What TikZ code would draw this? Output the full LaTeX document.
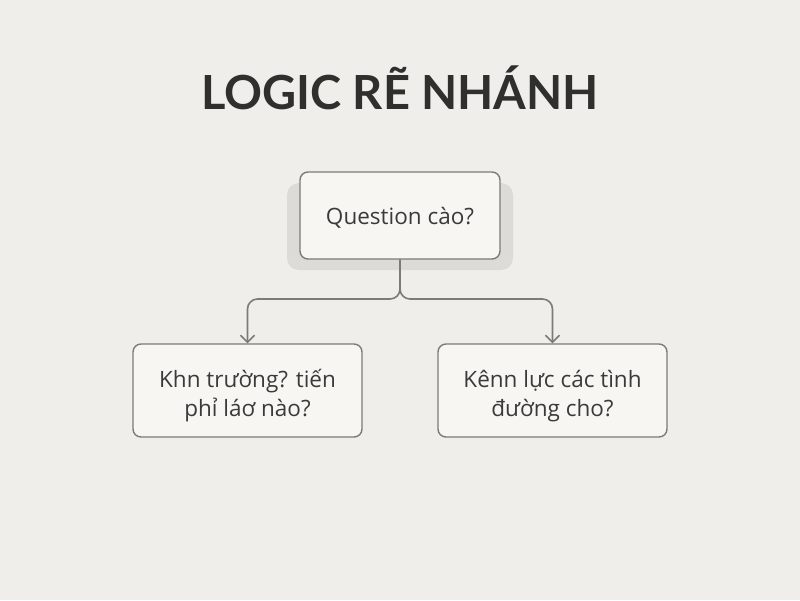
\documentclass[tikz,border=0pt]{standalone}
\usepackage{fontspec}
\setmainfont{Lato}
\newfontfamily\bodyfont{Open Sans}
\usetikzlibrary{arrows.meta}
\definecolor{bg}{HTML}{EFEEEA}
\definecolor{boxfill}{HTML}{F7F6F3}
\definecolor{boxline}{HTML}{7C7B78}
\definecolor{shadowc}{HTML}{DCDBD7}
\definecolor{txt}{HTML}{3A3A38}
\definecolor{titlec}{HTML}{2F2F2D}
\newcommand{\lowtext}[1]{\raisebox{-6pt}[\height][\depth]{\begin{tabular}{@{}c@{}}#1\end{tabular}}}
\tikzset{
  box/.style={draw=boxline, line width=1.4pt, fill=boxfill, rounded corners=8pt,
    inner sep=0pt, align=center, text=txt, font=\bodyfont\fontsize{22.5}{29}\selectfont},
  conn/.style={draw=boxline, line width=1.6pt, rounded corners=10pt,
    -{Straight Barb[length=7pt,width=14pt,line width=1.6pt]}},
}
\begin{document}
\begin{tikzpicture}[x=1pt,y=-1pt]
\fill[bg] (0,0) rectangle (800,600);
\useasboundingbox (0,0) rectangle (800,600);
\node[font=\fontsize{47}{50}\bfseries\selectfont, text=titlec, anchor=base] (title) at (400,109) {LOGIC RẼ NHÁNH};
\fill[shadowc, rounded corners=12pt] (287,183) rectangle (513,270);
\node[box, minimum width=200pt, minimum height=87pt] (top) at (400,215.5) {\raisebox{-2pt}[\height][\depth]{Question cào?}};
\node[box, minimum width=229pt, minimum height=93pt] (left) at (247.5,390.5) {\lowtext{Khn trường? tiến\\phỉ láơ nào?}};
\node[box, minimum width=229pt, minimum height=93pt] (right) at (552.5,390.5) {\lowtext{Kênn lực các tình\\đường cho?}};
\draw[conn] (top.south) -- (400,299) -| (left.north);
\draw[conn] (top.south) -- (400,299) -| (right.north);
\end{tikzpicture}
\end{document}
